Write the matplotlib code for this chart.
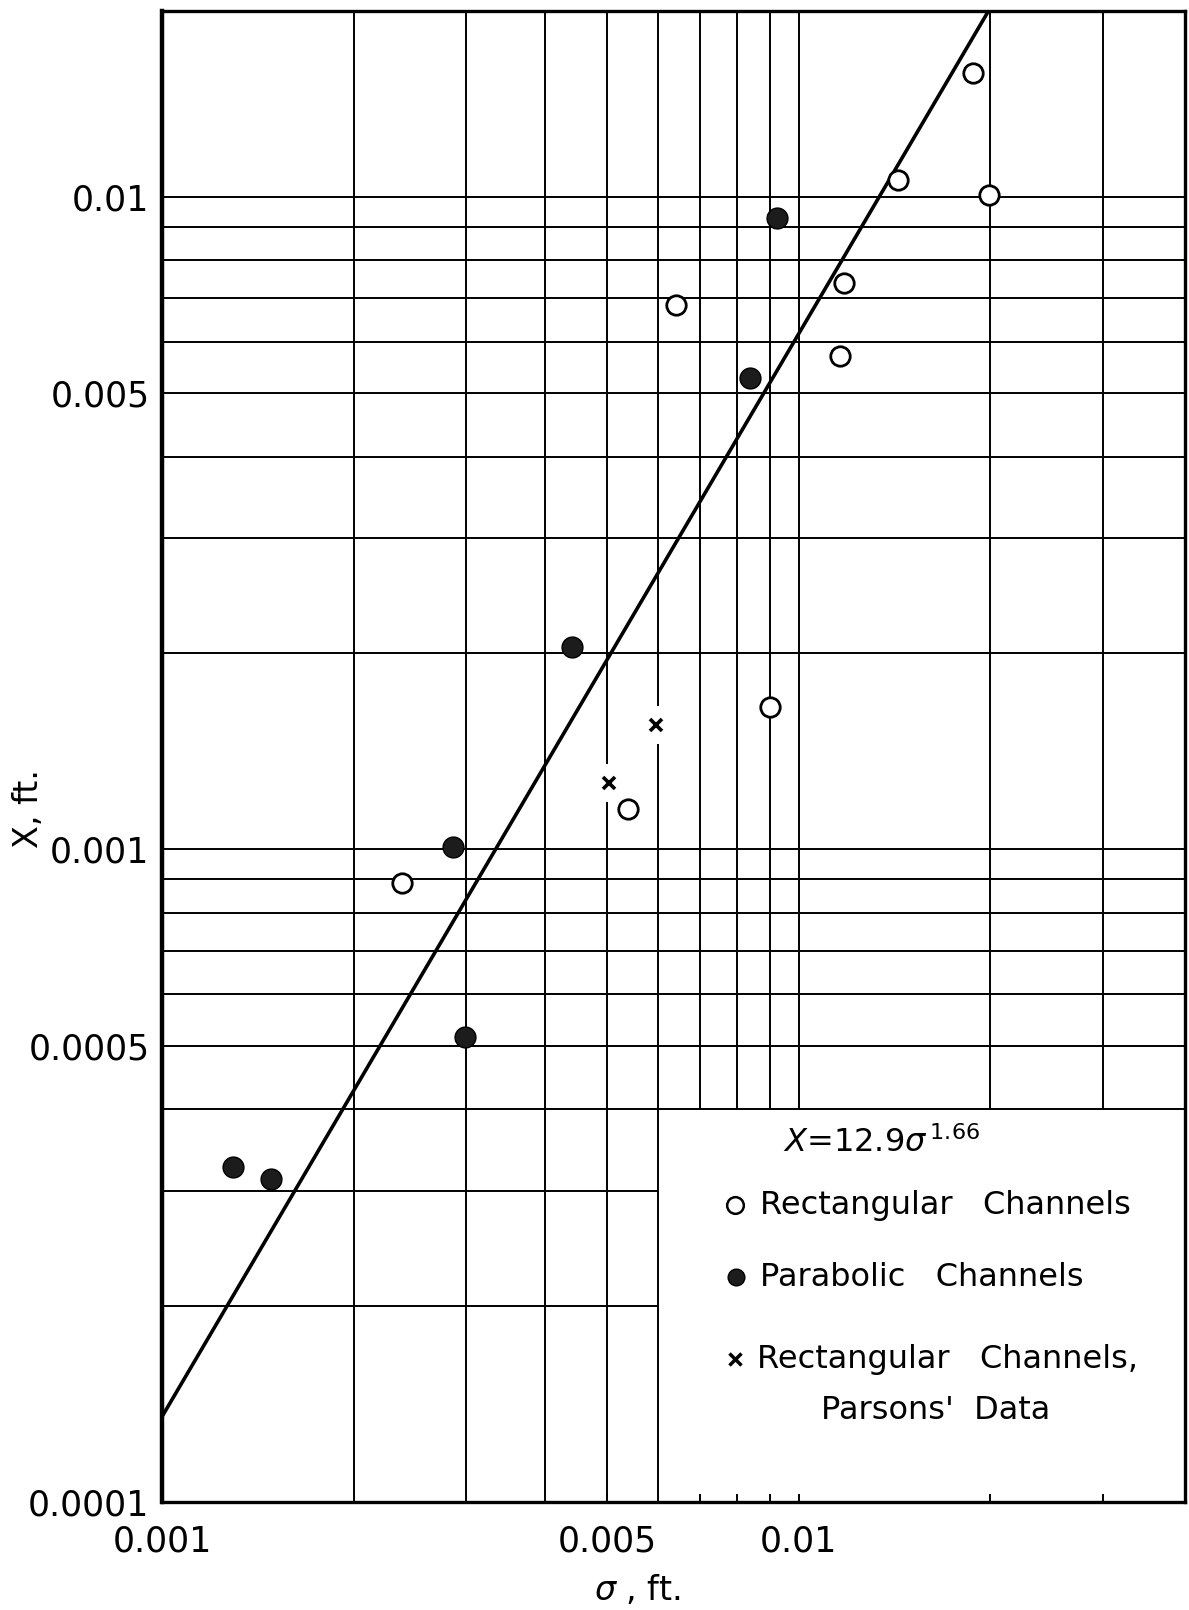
import numpy as np
import matplotlib
matplotlib.use("Agg")
import matplotlib.pyplot as plt
from matplotlib.ticker import FixedLocator, FixedFormatter, NullFormatter

plt.rcParams['font.family'] = ['DejaVu Sans']
plt.rcParams['mathtext.fontset'] = 'dejavusans'

# data (sigma, ft. vs X, ft.)
rect_sigma = [0.00238, 0.00539, 0.00641, 0.0090, 0.0116, 0.01177, 0.0143, 0.01987, 0.01876]
rect_chi = [0.000889, 0.001153, 0.00683, 0.001654, 0.00571, 0.00738, 0.01062, 0.01007, 0.01549]

para_sigma = [0.001293, 0.001483, 0.002863, 0.00299, 0.0044, 0.00838, 0.00924]
para_chi = [0.000326, 0.000313, 0.001009, 0.000516, 0.002043, 0.00528, 0.00929]

parsons_sigma = [0.00503, 0.00596]
parsons_chi = [0.001264, 0.00155]

# fitted relation X = 12.9 sigma^1.66
coef = 12.9
expo = 1.66

xlim = (0.001, 0.0404)
ylim = (0.0001, 0.01928)

# graph paper lines
grid_x_full = [0.002, 0.003, 0.004, 0.005, 0.006]
grid_x_upper = [0.007, 0.008, 0.009, 0.01, 0.02, 0.03]
grid_y_full = [0.0004, 0.0005, 0.0006, 0.0007, 0.0008, 0.0009, 0.001,
               0.002, 0.003, 0.004, 0.005, 0.006, 0.007, 0.008, 0.009, 0.01]
grid_y_left = [0.0002, 0.0003]
box_x, box_y = 0.006, 0.0004

x_ticks = [0.001, 0.005, 0.01]
x_labels = ['0.001', '0.005', '0.01']
x_minor = [0.007, 0.008, 0.009, 0.02, 0.03]
y_ticks = [0.0001, 0.0005, 0.001, 0.005, 0.01]
y_labels = ['0.0001', '0.0005', '0.001', '0.005', '0.01']

fig = plt.figure(figsize=(11.89, 16.10), dpi=100)
ax = fig.add_axes([0.1362, 0.0671, 0.8604, 0.9261])
ax.set_xscale('log')
ax.set_yscale('log')
ax.set_xlim(*xlim)
ax.set_ylim(*ylim)

gl = dict(color='black', lw=1.4, zorder=1)
ax.vlines(grid_x_full, ylim[0], ylim[1], **gl)
ax.vlines(grid_x_upper, box_y, ylim[1], **gl)
ax.hlines(grid_y_full, xlim[0], xlim[1], **gl)
ax.hlines(grid_y_left, xlim[0], box_x, **gl)

# fitted line
sig_line = np.array(xlim)
ax.plot(sig_line, coef * sig_line ** expo, color='black', lw=2.6, zorder=3)

# white gaps in the grid around the x marks
ax.plot(parsons_sigma, parsons_chi, ls='none', marker='|', ms=27, mew=6,
        color='white', zorder=2)
ax.plot(parsons_sigma, parsons_chi, ls='none', marker='x', ms=9, mew=2.6,
        color='black', zorder=4)
ax.plot(rect_sigma, rect_chi, ls='none', marker='o', ms=14, mew=2.0,
        mfc='white', mec='black', zorder=4)
ax.plot(para_sigma, para_chi, ls='none', marker='o', ms=15, mew=1.0,
        mfc='#1c1c1c', mec='black', zorder=4)

for side in ['top', 'right', 'bottom']:
    ax.spines[side].set_linewidth(2.4)
ax.spines['left'].set_linewidth(3.2)

ax.xaxis.set_major_locator(FixedLocator(x_ticks))
ax.xaxis.set_major_formatter(FixedFormatter(x_labels))
ax.xaxis.set_minor_locator(FixedLocator(x_minor))
ax.xaxis.set_minor_formatter(NullFormatter())
ax.yaxis.set_major_locator(FixedLocator(y_ticks))
ax.yaxis.set_major_formatter(FixedFormatter(y_labels))
ax.yaxis.set_minor_locator(FixedLocator([]))
ax.tick_params(axis='x', which='both', direction='in', length=6, width=1.4,
               labelsize=25, pad=16)
ax.tick_params(axis='y', which='both', length=0, labelsize=25, pad=9)

# axis titles
fig.text(29 / 1189, 1 - 808 / 1610, 'X, ft.', rotation=90, fontsize=24,
         ha='center', va='center')
fig.text(637 / 1189, 1 - 1590 / 1610, r'$\sigma$ , ft.', fontsize=24,
         ha='center', va='center')

# legend inside the lower right box
fs = 23
fig.text(783 / 1189, 1 - 1143 / 1610, r'$X$=12.9$\sigma^{\,1.66}$', fontsize=fs,
         ha='left', va='center')
ax.plot([735 / 1189], [1 - 1205 / 1610], transform=fig.transFigure, marker='o',
        ms=12, mew=1.8, mfc='white', mec='black', clip_on=False)
fig.text(760 / 1189, 1 - 1205 / 1610, 'Rectangular   Channels', fontsize=fs,
         ha='left', va='center')
ax.plot([736 / 1189], [1 - 1277 / 1610], transform=fig.transFigure, marker='o',
        ms=12, mfc='#1c1c1c', mec='black', clip_on=False)
fig.text(760 / 1189, 1 - 1277 / 1610, 'Parabolic   Channels', fontsize=fs,
         ha='left', va='center')
ax.plot([735 / 1189], [1 - 1359 / 1610], transform=fig.transFigure, marker='x',
        ms=8, mew=2.5, color='black', clip_on=False)
fig.text(757 / 1189, 1 - 1359 / 1610, 'Rectangular   Channels,', fontsize=fs,
         ha='left', va='center')
fig.text(821 / 1189, 1 - 1410 / 1610, "Parsons'  Data", fontsize=fs,
         ha='left', va='center')

fig.savefig('out.png', dpi=100, facecolor='white')
